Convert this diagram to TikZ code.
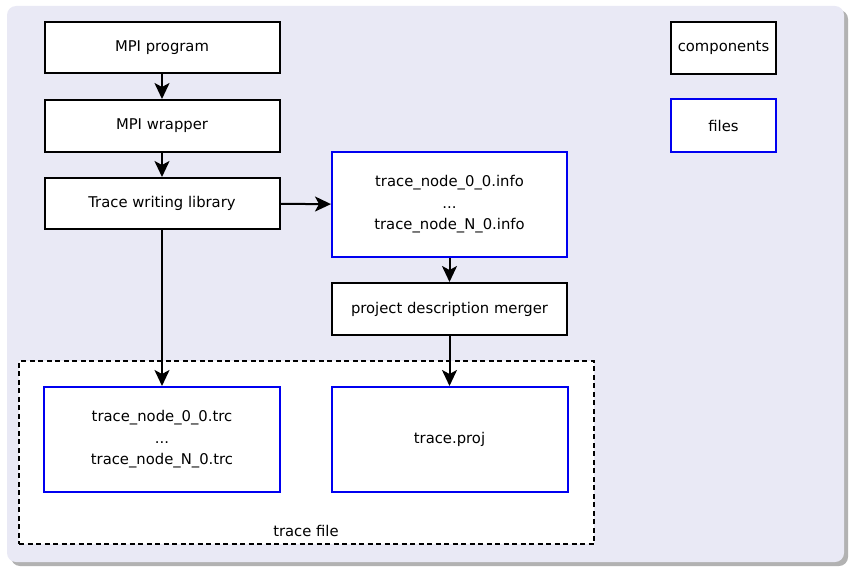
\documentclass[tikz,border=0pt]{standalone}
\usepackage{fontspec}
\setmainfont{DejaVu Sans}
\usetikzlibrary{arrows.meta}
\definecolor{bgcol}{HTML}{E9E9F5}
\definecolor{filecol}{HTML}{0000F0}
\tikzset{
  base/.style={draw, fill=white, line width=2pt, inner sep=0pt, align=center,
    font=\fontsize{14.8}{21.5}\selectfont},
  comp/.style={base, draw=black},
  filebox/.style={base, draw=filecol},
  arr/.style={line width=2pt, -{Stealth[length=16pt,width=15pt,inset=4pt]}},
}
\begin{document}
\begin{tikzpicture}[x=1pt,y=-1pt]
\useasboundingbox (0,0) rectangle (849,567);
% background panel with shadow
\fill[black!30, rounded corners=9pt] (11,10) rectangle (848,566);
\fill[bgcol, rounded corners=9pt] (7,6) rectangle (844,562);
% dashed trace file container
\node[draw, fill=white, dashed, dash pattern=on 5pt off 3.5pt, line width=2pt,
  minimum width=575pt, minimum height=183pt, inner sep=0pt] (tf) at (306.5,452.5) {};
\node[font=\fontsize{14.8}{17}\selectfont] (tflabel) at (306,531) {trace file};
% components
\node[comp, minimum width=235pt, minimum height=51pt] (prog) at (162,47.5) {MPI program};
\node[comp, minimum width=235pt, minimum height=52pt] (wrap) at (162,126) {MPI wrapper};
\node[comp, minimum width=235pt, minimum height=51pt] (lib) at (162,203.5) {Trace writing library};
\node[filebox, minimum width=235pt, minimum height=105pt] (info) at (449.5,204.5)
  {trace\_node\_0\_0.info\\...\\trace\_node\_N\_0.info};
\node[comp, minimum width=235pt, minimum height=52pt] (merge) at (449.5,309) {project description merger};
\node[filebox, minimum width=236pt, minimum height=105pt] (trc) at (162,439.5)
  {trace\_node\_0\_0.trc\\...\\trace\_node\_N\_0.trc};
\node[filebox, minimum width=236pt, minimum height=105pt] (proj) at (449.5,439.5) {trace.proj};
% legend
\node[comp, minimum width=105pt, minimum height=52pt] (lcomp) at (723.5,48) {components};
\node[filebox, minimum width=105pt, minimum height=53pt] (lfile) at (723.5,126) {files};
% connectors
\draw[arr] (prog) -- (wrap);
\draw[arr] (wrap) -- (lib);
\draw[arr] (lib) -- (info);
\draw[arr] (lib) -- (trc);
\draw[arr] (info) -- (merge);
\draw[arr] (merge) -- (proj);
\end{tikzpicture}
\end{document}
